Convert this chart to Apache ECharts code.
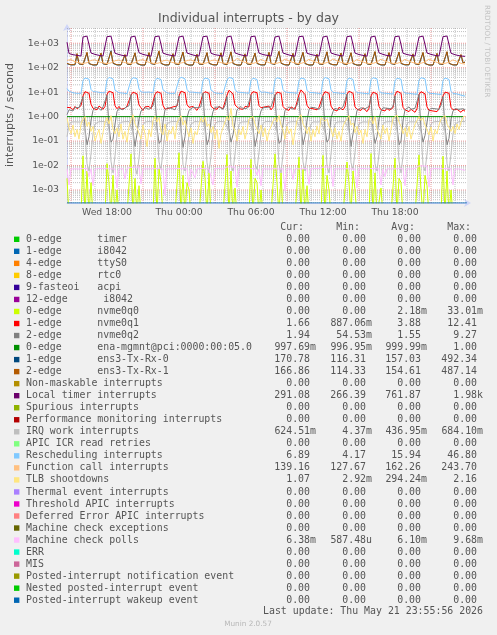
<!DOCTYPE html>
<html><head><meta charset="utf-8">
<script src="https://cdn.jsdelivr.net/npm/echarts@6/dist/echarts.min.js"></script>
<style>html,body{margin:0;padding:0;background:#F0F0F0}#c{width:497px;height:635px}</style>
</head><body><div id="c"></div>
<script>
// ---- time base (hours since Wed 00:00) ----
const startHour = 14 + 40/60;   // Wed 14:40
const endHour = 48;             // Fri 00:00
const stepHours = 1/6;          // 10-minute samples
const xLabelHours = [18, 24, 30, 36, 42];
const xLabelTexts = ['Wed 18:00', 'Thu 00:00', 'Thu 06:00', 'Thu 12:00', 'Thu 18:00'];
const yTickValues = [1e-3, 1e-2, 1e-1, 1, 1e1, 1e2, 1e3];
const yMin = 2.94e-4, yMax = 4200;

// ---- series values (10-minute samples) ----
const nvme0q0 = [0.003,0,0,0,0,0,0,0,
0.025,0,0.006,0, 0.002,0,0,0,0,0,0,0,
0.012,0.002,0,0.004, 0,0.001,0,0,0,0,0,0,
0.03,0,0.003,0, 0.0015,0,0,0,0,0,0,0,
0.02,0,0.008,0.002, 0,0,0,0,0,0,0,0,
0.033,0,0.004,0, 0.002,0.001,0,0,0,0,0,0,
0.015,0.003,0,0.005, 0,0,0,0,0,0,0,0,
0.028,0,0.006,0, 0.0012,0,0,0,0,0,0,0,
0.018,0,0.003,0.002, 0,0.001,0,0,0,0,0,0,
0.03,0.002,0,0.005, 0,0,0,0,0,0,0,0,
0.022,0,0.007,0, 0.0015,0,0,0,0,0,0,0,
0.026,0,0.004,0.001, 0,0,0,0,0,0,0,0,
0.014,0.002,0,0.006, 0.001,0,0,0,0,0,0,0,
0.031,0,0.005,0, 0,0.0012,0,0,0,0,0,0,
0.02,0,0.003,0.002, 0,0,0,0,0,0,0,0,
0.027,0.001,0,0.004, 0.0015,0,0,0,0,0,0,0,
0.024,0,0.006,0, 0.001,0,0,0,0,0,0,0];

const nvme0q1 = [2.4,2.0,2.3,1.9,2.6,2.1,2.4,2.8,
7,10.5,11,9, 3.2,2.2,2.5,1.9,2.7,2.3,2.0,2.6,
8,11,10.5,9.5, 2.8,2.1,2.6,2.0,2.4,2.2,2.7,2.3,
7.5,10,11.5,8.5, 3.0,2.3,1.8,2.5,2.2,2.6,2.1,2.4,
8,10.5,10,9, 2.9,2.0,2.4,2.2,1.9,2.5,2.3,2.7,
7,11,10.5,9.5, 3.1,2.4,2.0,2.6,2.3,1.8,2.5,2.2,
8.5,10.5,11,9, 2.7,2.2,2.5,2.0,2.6,2.3,2.1,2.4,
7.5,12,10,8.5, 3.0,2.5,2.1,2.4,2.0,2.6,2.2,2.5,
8,10.5,11,9.5, 2.8,2.3,2.0,2.5,2.2,2.7,1.9,2.4,
7,10,11.5,9, 2.6,2.1,2.4,1.8,2.5,2.2,2.0,2.3,
8,12.4,10.5,8, 2.9,2.2,2.6,2.1,2.3,1.9,2.4,2.2,
7.5,10.5,11,9, 2.7,2.0,2.3,1.7,2.4,2.1,1.9,2.5,
8,11,10,9, 2.5,2.0,2.2,1.8,2.3,2.0,1.6,2.2,
7,10,10.5,8.5, 2.6,1.9,2.1,1.7,2.2,1.8,2.0,2.3,
7.5,11,10.5,9, 2.4,1.9,2.2,1.6,2.0,1.8,1.5,2.1,
8,10.5,11,8.5, 2.5,1.8,2.0,1.7,1.9,1.6,2.1,1.8,
7,10,10.5,9, 2.4,1.9,1.7,2.0,1.8,1.5,1.9,1.66];

const nvme0q2 = [1.2,1.9,2.2,1.7,2.4,2.0,2.3,2.6,
6.5,0.3,0.07,0.15, 0.7,1.8,2.4,2.0,2.2,1.8,2.5,2.9,
7.5,0.4,0.09,0.12, 0.5,1.6,2.2,2.5,1.9,2.3,2.1,2.8,
8,0.25,0.06,0.2, 0.8,1.7,2.0,2.3,2.6,2.0,2.4,2.7,
6,0.35,0.08,0.1, 0.6,1.9,2.3,2.0,2.2,2.5,1.9,3.0,
7,0.3,0.055,0.15, 0.9,1.8,2.1,2.4,2.0,2.3,2.6,2.5,
9.27,0.4,0.07,0.12, 0.7,1.6,2.4,2.1,2.5,2.2,2.0,2.8,
6.5,0.3,0.09,0.18, 0.6,1.9,2.2,2.6,2.1,2.4,2.2,2.6,
7.5,0.35,0.06,0.14, 0.8,1.7,2.3,2.0,2.4,2.1,2.5,2.7,
8,0.3,0.08,0.1, 0.5,1.8,2.1,2.5,2.2,2.0,2.3,2.9,
6,0.4,0.07,0.16, 0.7,1.9,2.4,2.1,2.3,2.6,2.0,2.5,
7,0.3,0.09,0.12, 0.9,1.6,2.2,2.4,1.9,2.2,2.5,2.8,
8.5,0.35,0.06,0.2, 0.6,1.8,2.0,2.3,2.5,2.1,2.4,2.6,
6.5,0.3,0.08,0.15, 0.8,1.7,2.3,2.0,2.2,2.4,2.1,2.7,
7,0.4,0.07,0.1, 0.7,1.9,2.1,2.5,2.0,2.3,2.2,2.6,
8,0.3,0.09,0.17, 0.6,1.8,2.2,2.4,2.1,2.5,2.0,2.8,
6.5,0.35,0.07,0.13, 0.8,1.7,2.1,2.3,2.0,2.2,2.1,1.94];

// ena-mgmnt sampled hourly
const enaHourly = [1.0,0.999,1.0,0.998,1.0,1.0,0.999,1.0,0.998,1.0,0.999,1.0,1.0,0.998,1.0,0.999,1.0,1.0,0.999,1.0,0.998,1.0,1.0,0.999,1.0,0.998,1.0,0.999,1.0,1.0,0.999,1.0,0.998,0.998];

const ens3Rx0 = [146,137,129,126,131,350,142,127,
133,141,400,146, 135,128,125,129,137,370,143,129,
134,139,492,150, 137,129,126,129,136,330,141,128,
132,138,390,147, 134,128,124,128,139,400,146,130,
136,143,450,149, 136,128,126,130,137,360,143,129,
133,138,420,146, 133,127,124,128,135,340,141,128,
135,141,400,150, 138,130,126,129,138,390,146,130,
132,137,430,147, 135,128,125,127,134,350,142,129,
134,140,380,148, 136,129,126,130,139,410,147,131,
136,142,450,151, 137,130,127,128,136,370,144,129,
133,139,410,147, 134,128,124,129,137,340,142,128,
135,141,430,149, 138,131,126,130,138,380,145,130,
132,138,395,146, 133,127,125,128,135,360,143,129,
134,140,440,150, 136,129,126,129,137,400,146,130,
136,143,420,148, 137,130,127,131,139,350,144,131,
133,137,405,147, 134,128,125,128,136,370,143,129,
135,141,435,150, 137,129,126,129,137,330,158,170.78];

const ens3Rx1 = [150,140,132,128,135,380,145,130,
135,145,430,150, 138,130,128,133,140,400,148,132,
136,142,460,155, 140,132,129,131,138,350,145,130,
134,140,410,150, 137,131,127,130,142,420,150,133,
138,146,487,152, 139,130,128,132,139,380,146,131,
135,141,440,149, 136,129,126,130,137,360,144,130,
137,144,420,153, 141,133,128,131,140,410,149,132,
134,140,450,150, 138,130,127,129,136,370,145,131,
136,143,400,151, 139,131,128,132,141,430,150,134,
138,145,470,154, 140,132,129,130,138,390,147,131,
135,142,430,150, 137,130,126,131,139,360,145,130,
137,144,450,152, 141,133,128,132,140,400,148,133,
134,141,415,149, 136,129,127,130,137,380,146,131,
136,143,460,153, 139,131,128,131,139,420,149,132,
138,146,440,151, 140,132,129,133,141,370,147,134,
135,140,425,150, 137,130,127,130,138,390,146,131,
137,144,455,153, 140,131,128,131,139,350,160,166.86];

const localTimer = [1100,380,360,340,330,320,300,300,
1800,1950,1960,1750, 400,370,350,330,320,310,300,295,
1850,1940,1950,1800, 390,360,345,330,315,305,300,290,
1800,1960,1950,1750, 410,370,350,330,320,300,295,290,
1850,1950,1970,1800, 395,365,345,335,320,305,300,295,
1800,1940,1960,1750, 400,370,350,330,315,310,300,290,
1850,1960,1950,1800, 390,360,340,330,320,305,295,290,
1800,1950,1960,1700, 405,370,350,335,320,300,300,295,
1850,1945,1955,1800, 395,365,345,330,320,305,300,290,
1800,1970,1960,1750, 400,370,350,330,315,305,295,290,
1850,1950,1940,1800, 390,360,345,330,320,310,300,295,
1800,1960,1950,1750, 400,365,350,335,320,305,300,290,
1850,1950,1975,1800, 395,370,345,330,320,305,295,290,
1800,1960,1950,1750, 405,365,350,330,315,300,300,295,
1850,1950,1960,1800, 390,360,345,335,320,305,300,290,
1800,1945,1955,1750, 400,370,350,330,320,310,300,295,
1850,1960,1980,1800, 390,360,340,320,310,300,295,291.08];

const irqWork = [0.15,0.45,0.6,0.62,0.61,0.63,0.6,0.62,
0.61,0.25,0.012,0.006, 0.03,0.2,0.5,0.6,0.62,0.61,0.63,0.62,
0.6,0.3,0.015,0.005, 0.025,0.18,0.48,0.59,0.63,0.62,0.61,0.63,
0.62,0.22,0.01,0.0044, 0.02,0.15,0.45,0.6,0.61,0.63,0.62,0.6,
0.61,0.28,0.014,0.007, 0.04,0.22,0.52,0.61,0.62,0.6,0.63,0.62,
0.6,0.25,0.011,0.006, 0.03,0.19,0.5,0.6,0.63,0.62,0.61,0.62,
0.62,0.3,0.013,0.005, 0.025,0.2,0.49,0.61,0.62,0.63,0.6,0.61,
0.61,0.24,0.01,0.006, 0.03,0.17,0.47,0.6,0.62,0.61,0.62,0.63,
0.6,0.27,0.012,0.007, 0.035,0.21,0.51,0.62,0.61,0.63,0.62,0.6,
0.62,0.26,0.011,0.005, 0.03,0.18,0.48,0.6,0.63,0.62,0.61,0.62,
0.61,0.29,0.014,0.006, 0.028,0.2,0.5,0.61,0.62,0.6,0.63,0.62,
0.6,0.23,0.01,0.005, 0.03,0.19,0.49,0.6,0.62,0.61,0.62,0.63,
0.62,0.28,0.013,0.007, 0.035,0.22,0.52,0.62,0.61,0.63,0.6,0.62,
0.61,0.25,0.012,0.006, 0.03,0.18,0.48,0.6,0.62,0.62,0.61,0.62,
0.6,0.3,0.015,0.005, 0.025,0.2,0.5,0.61,0.63,0.61,0.62,0.6,
0.62,0.24,0.011,0.006, 0.03,0.19,0.49,0.6,0.62,0.63,0.61,0.62,
0.61,0.27,0.012,0.006, 0.03,0.2,0.5,0.6,0.62,0.61,0.63,0.6245];

const rescheduling = [14,11,10,9.5,10.5,9,9.5,9,
30,38,40,34, 13,10.5,9.8,10.2,9,9.6,8.8,9.4,
32,40,39,35, 12,10,9.5,10.8,9.2,9.9,8.7,9.1,
31,39,41,36, 13.5,10.2,9.6,9.9,9.3,10.1,8.9,9.5,
29,37,40,33, 12.5,10.6,9.4,10.3,8.9,9.7,9,9.2,
33,41,38,35, 13,10.1,9.7,10,9.1,9.5,8.6,9.3,
30,38,40,34, 12.2,10.4,9.3,10.5,9,9.8,8.8,9,
31,40,46.8,36, 13.2,10,9.5,9.8,8.9,9.4,8.5,9.1,
30,37,39,33, 12.6,9.9,9.2,10.1,8.8,9.3,8.6,8.9,
32,39,41,35, 12.8,10.2,9.4,9.7,8.7,9.5,8.4,9,
29,38,40,34, 12.1,9.8,9,9.6,8.6,9.2,8.3,8.8,
31,40,39,35, 12.5,9.7,8.9,9.4,8.5,9,8.2,8.7,
30,38,41,33, 12,9.5,8.8,9.3,8.3,8.9,8,8.5,
32,39,40,35, 11.8,9.4,8.6,9.1,8.2,8.7,7.9,8.4,
29,37,39,34, 11.5,9.2,8.5,9,8,8.5,7.8,8.2,
31,39,40,35, 11.2,9,8.3,8.8,7.9,8.4,7.6,8,
30,38,39,33, 11,8.8,8.1,8.5,7.8,7.5,7.2,6.89];

const functionCall = [200,230,215,190,175,165,158,150,
148,152,160,172, 198,228,212,190,174,164,157,151,
147,150,157,168, 192,220,208,186,170,162,155,149,
149,153,161,175, 200,235,215,192,176,166,158,152,
146,150,156,169, 190,218,205,184,170,161,154,148,
150,154,162,174, 196,226,211,189,173,164,156,150,
147,151,158,170, 194,222,209,187,171,163,155,149,
149,152,160,173, 199,243,214,191,175,165,157,151,
146,150,157,168, 191,219,206,185,170,161,154,148,
148,152,159,171, 197,227,212,190,174,164,156,150,
147,150,156,169, 193,221,208,186,171,162,155,149,
149,153,161,174, 198,230,213,191,175,165,157,151,
146,149,155,167, 190,216,204,184,169,160,153,147,
148,151,158,170, 195,224,210,188,172,163,155,149,
147,150,157,169, 192,220,207,186,170,161,154,148,
149,152,160,172, 196,226,211,189,173,163,156,150,
147,150,157,168, 190,210,196,178,162,150,145,139.16];

const tlbShootdowns = [0.9,0.35,0.2,0.45,0.15,0.3,0.12,0.5,
0.8,1.0,0.4,0.6, 0.25,0.4,0.1,0.18,0.3,0.08,0.22,0.6,
0.9,0.5,1.1,0.3, 0.2,0.35,0.15,0.5,0.12,0.25,0.09,0.4,
0.7,1.2,0.5,0.35, 0.3,0.12,0.45,0.2,0.06,0.3,0.15,0.7,
1.0,0.6,0.9,0.25, 0.18,0.5,0.1,0.28,0.2,0.4,0.12,0.55,
0.8,1.1,0.45,0.7, 0.3,0.15,0.35,0.08,0.25,0.18,0.45,0.9,
0.6,0.95,0.4,0.5, 0.22,0.4,0.12,0.3,0.05,0.2,0.35,0.6,
1.0,0.7,2.16,0.4, 0.25,0.1,0.3,0.18,0.4,0.12,0.28,0.8,
0.75,1.0,0.5,0.3, 0.2,0.45,0.15,0.35,0.1,0.25,0.4,0.65,
0.9,0.6,1.1,0.45, 0.28,0.12,0.4,0.2,0.32,0.07,0.25,0.7,
0.8,1.2,0.5,0.35, 0.2,0.38,0.1,0.3,0.15,0.42,0.2,0.9,
1.0,0.65,0.8,0.4, 0.3,0.15,0.35,0.12,0.25,0.1,0.4,0.6,
0.7,1.1,0.45,0.55, 0.22,0.4,0.18,0.28,0.08,0.3,0.15,0.75,
0.95,0.5,1.0,0.3, 0.25,0.12,0.45,0.2,0.35,0.1,0.3,0.85,
0.8,1.15,0.6,0.4, 0.2,0.35,0.15,0.4,0.12,0.25,0.5,0.7,
1.0,0.7,0.9,0.45, 0.3,0.18,0.38,0.1,0.3,0.2,0.45,0.8,
0.85,1.1,0.5,0.6, 0.25,0.4,0.2,0.5,0.3,0.6,0.9,1.07];

const mcPolls = [0.0074,0.0016,0.0072,0.0075,0.0073,0.0076,0.0072,0.0074,
0.0075,0.0073,0.0076,0.0035, 0.0074,0.0015,0.0071,0.0074,0.0076,0.0073,0.0075,0.0072,
0.0074,0.0076,0.0073,0.0075, 0.0072,0.0012,0.0073,0.0075,0.0074,0.0028,0.0076,0.0073,
0.0085,0.0088,0.0086,0.0084, 0.0087,0.0018,0.0072,0.0074,0.0073,0.0075,0.0074,0.0072,
0.0074,0.0072,0.0075,0.0073, 0.0071,0.0006,0.0073,0.0076,0.0074,0.0073,0.0075,0.0074,
0.0075,0.0074,0.0073,0.0076, 0.0074,0.0014,0.0072,0.0075,0.0032,0.0074,0.0073,0.0075,
0.0073,0.0075,0.0074,0.0072, 0.0075,0.0016,0.0074,0.0073,0.0076,0.0074,0.0072,0.0074,
0.0088,0.0086,0.0089,0.0087, 0.0085,0.0013,0.0073,0.0074,0.0075,0.0073,0.0076,0.0074,
0.0074,0.0073,0.0075,0.004, 0.0073,0.0015,0.0075,0.0074,0.0072,0.0075,0.0073,0.0076,
0.0075,0.0074,0.0072,0.0075, 0.0074,0.0009,0.0072,0.0076,0.0074,0.0027,0.0075,0.0073,
0.0073,0.0076,0.0074,0.0073, 0.0075,0.0017,0.0074,0.0073,0.0075,0.0074,0.0076,0.0072,
0.0086,0.0084,0.0087,0.0085, 0.0086,0.0014,0.0073,0.0075,0.0074,0.0072,0.0074,0.0075,
0.0074,0.0075,0.0073,0.0076, 0.0072,0.0012,0.0075,0.0073,0.0076,0.0074,0.0073,0.0074,
0.0075,0.0073,0.0074,0.0072, 0.0074,0.0016,0.0072,0.0035,0.0074,0.0075,0.0073,0.0076,
0.0073,0.0074,0.0076,0.0075, 0.0073,0.0015,0.0074,0.0075,0.0072,0.0074,0.0076,0.0073,
0.0096,0.0094,0.0097,0.0095, 0.0093,0.0013,0.0073,0.0074,0.0075,0.0073,0.0074,0.0072,
0.0074,0.0072,0.0075,0.0073, 0.0074,0.0016,0.0072,0.0074,0.0073,0.0075,0.0066,0.00638];

// series that stayed at zero for the whole period (start, end)
const zeroSeries = [0, 0];

// ---- legend table ----
const legendLabels = ['0-edge      timer','1-edge      i8042','4-edge      ttyS0','8-edge      rtc0','9-fasteoi   acpi','12-edge      i8042','0-edge      nvme0q0','1-edge      nvme0q1','2-edge      nvme0q2','0-edge      ena-mgmnt@pci:0000:00:05.0','1-edge      ens3-Tx-Rx-0','2-edge      ens3-Tx-Rx-1','Non-maskable interrupts','Local timer interrupts','Spurious interrupts','Performance monitoring interrupts','IRQ work interrupts','APIC ICR read retries','Rescheduling interrupts','Function call interrupts','TLB shootdowns','Thermal event interrupts','Threshold APIC interrupts','Deferred Error APIC interrupts','Machine check exceptions','Machine check polls','ERR','MIS','Posted-interrupt notification event','Nested posted-interrupt event','Posted-interrupt wakeup event'];
const legendColors = ['#00CC00','#0066B3','#FF8000','#FFCC00','#330099','#990099','#CCFF00','#FF0000','#808080','#008F00','#00487D','#B35A00','#B38F00','#6B006B','#8FB300','#B30000','#BEBEBE','#80FF80','#80C9FF','#FFC080','#FFE680','#AA80FF','#EE00CC','#FF8080','#666600','#FFBFFF','#00FFCC','#CC6699','#999900','#00CC00','#0066B3'];
const curVals = ['0.00','0.00','0.00','0.00','0.00','0.00','0.00','1.66','1.94','997.69m','170.78','166.86','0.00','291.08','0.00','0.00','624.51m','0.00','6.89','139.16','1.07','0.00','0.00','0.00','0.00','6.38m','0.00','0.00','0.00','0.00','0.00'];
const minVals = ['0.00','0.00','0.00','0.00','0.00','0.00','0.00','887.06m','54.53m','996.95m','116.31','114.33','0.00','266.39','0.00','0.00','4.37m','0.00','4.17','127.67','2.92m','0.00','0.00','0.00','0.00','587.48u','0.00','0.00','0.00','0.00','0.00'];
const avgVals = ['0.00','0.00','0.00','0.00','0.00','0.00','2.18m','3.88','1.55','999.99m','157.03','154.61','0.00','761.87','0.00','0.00','436.95m','0.00','15.94','162.26','294.24m','0.00','0.00','0.00','0.00','6.10m','0.00','0.00','0.00','0.00','0.00'];
const maxVals = ['0.00','0.00','0.00','0.00','0.00','0.00','33.01m','12.41','9.27','1.00','492.34','487.14','0.00','1.98k','0.00','0.00','684.10m','0.00','46.80','243.70','2.16','0.00','0.00','0.00','0.00','9.68m','0.00','0.00','0.00','0.00','0.00'];
const columnHeaders = ['Cur:', 'Min:', 'Avg:', 'Max:'];

// which legend row each plotted series belongs to
const seriesValues = [zeroSeries,zeroSeries,zeroSeries,zeroSeries,zeroSeries,zeroSeries,nvme0q0,nvme0q1,nvme0q2,enaHourly,ens3Rx0,ens3Rx1,zeroSeries,localTimer,zeroSeries,zeroSeries,irqWork,zeroSeries,rescheduling,functionCall,tlbShootdowns,zeroSeries,zeroSeries,zeroSeries,zeroSeries,mcPolls,zeroSeries,zeroSeries,zeroSeries,zeroSeries,zeroSeries];

// ---- build ----
const FONT = '"DejaVu Sans", sans-serif';
const MONO = '"DejaVu Sans Mono", monospace';
const TEXT_COLOR = '#555555';
const lastRow = legendLabels.length - 1;

function toPoints(values, rowIdx) {
  let step = stepHours;
  if (values === enaHourly) step = 1;
  if (values === zeroSeries) {
    // zero lines sit on the bottom edge of the log scale; only the last drawn one stays visible
    if (rowIdx !== lastRow) return [];
    step = endHour - startHour;
    return values.map((v, i) => [startHour + i * step, yMin]);
  }
  // zero samples fall below the log axis
  return values.map((v, i) => [startHour + i * step, v > 0 ? v : yMin * 0.3]);
}

// grid line positions
const minorYs = [];
for (let e = -4; e <= 3; e++) for (let m = 2; m <= 9; m++) { const v = m * Math.pow(10, e); if (v > yMin && v < yMax) minorYs.push(v); }
const majorHours = [15, 21, 27, 33, 39, 45];
const minorHours = [];
for (let h = 15; h < endHour; h++) if (majorHours.indexOf(h) < 0) minorHours.push(h);

function hLines(vals) { const d = []; vals.forEach(v => { d.push([startHour, v], [endHour, v], [endHour, '-']); }); return d; }
function vLines(hs) { const d = []; hs.forEach(h => { d.push([h, yMin], [h, yMax], [h, '-']); }); return d; }

const series = [
  { type: 'line', data: hLines(minorYs).concat(vLines(minorHours)), symbol: 'none', silent: true, connectNulls: false,
    lineStyle: { width: 1, color: 'rgba(143,143,143,0.55)', type: [1, 1] } },
  { type: 'line', data: hLines(yTickValues).concat(vLines(majorHours)), symbol: 'none', silent: true, connectNulls: false,
    lineStyle: { width: 1, color: 'rgba(222,79,79,0.55)', type: [1, 1] } }
];
seriesValues.forEach((vals, idx) => {
  series.push({
    type: 'line', name: legendLabels[idx], data: toPoints(vals, idx), symbol: 'none', clip: true,
    lineStyle: { width: 1, color: legendColors[idx] }
  });
});

// graphic texts
const graphics = [];
function text(x, y, str, font, fill, align, extra) {
  graphics.push(Object.assign({ type: 'text', x: x, y: y, silent: true,
    style: { text: str, font: font, fill: fill, align: align, textAlign: align, verticalAlign: 'middle', textVerticalAlign: 'middle' } }, extra || {}));
}
text(248.5, 19, 'Individual interrupts - by day', '12.5px ' + FONT, TEXT_COLOR, 'center');
text(10.5, 115, 'interrupts / second', '11px ' + FONT, TEXT_COLOR, 'center', { rotation: Math.PI / 2 });
text(487, 5, 'RRDTOOL / TOBI OETIKER', '7.2px ' + FONT, '#C4C4C4', 'left', { rotation: -Math.PI / 2 });

const colEnds = [316, 372, 427, 483];
const rowY0 = 239.3, rowStep = 12.03;
const LF = '9.9px ' + MONO;
columnHeaders.forEach((h, c) => text(colEnds[c] - 12, 227.5, h, LF, TEXT_COLOR, 'right'));
legendLabels.forEach((lab, r) => {
  const y = rowY0 + r * rowStep;
  graphics.push({ type: 'rect', silent: true, shape: { x: 14, y: y - 2.7, width: 5.4, height: 5.4 }, style: { fill: legendColors[r] } });
  text(26, y, lab, LF, TEXT_COLOR, 'left');
  [curVals[r], minVals[r], avgVals[r], maxVals[r]].forEach((v, c) => {
    const hasSuffix = /[a-z]$/i.test(v);
    text(hasSuffix ? colEnds[c] : colEnds[c] - 6, y, v, LF, TEXT_COLOR, 'right');
  });
});
text(483, 611.7, 'Last update: Thu May 21 23:55:56 2026', LF, TEXT_COLOR, 'right');
text(248, 624, 'Munin 2.0.57', '7.3px ' + FONT, '#B8B8B8', 'center');

const option = {
  animation: false,
  backgroundColor: '#F0F0F0',
  grid: { left: 67, right: 30, top: 28, bottom: 432, backgroundColor: '#FFFFFF', show: true, borderWidth: 0 },
  xAxis: {
    type: 'value', min: startHour, max: endHour,
    axisLine: { show: true, lineStyle: { color: '#CFD6F8', width: 1 }, symbol: ['none', 'arrow'], symbolSize: [6, 7], symbolOffset: [0, 4] },
    axisTick: { show: false }, splitLine: { show: false },
    axisLabel: { customValues: xLabelHours, margin: 5, color: TEXT_COLOR, fontFamily: FONT, fontSize: 9.3,
      formatter: v => { const i = xLabelHours.findIndex(h => Math.abs(h - v) < 1e-6); return i >= 0 ? xLabelTexts[i] : ''; } }
  },
  yAxis: {
    type: 'log', logBase: 10, min: yMin, max: yMax,
    axisLine: { show: true, lineStyle: { color: '#CFD6F8', width: 1 }, symbol: ['none', 'arrow'], symbolSize: [6, 7], symbolOffset: [0, 4] },
    axisTick: { show: false }, splitLine: { show: false },
    axisLabel: { customValues: yTickValues, margin: 8, color: TEXT_COLOR, fontFamily: FONT, fontSize: 9.3,
      formatter: v => { const e = Math.round(Math.log10(v)); return '1e' + (e < 0 ? '-' : '+') + String(Math.abs(e)).padStart(2, '0'); } }
  },
  series: series,
  graphic: graphics
};
const chart = echarts.init(document.getElementById('c'), null, { renderer: 'canvas', width: 497, height: 635 });
chart.setOption(option);
</script>
</body></html>
